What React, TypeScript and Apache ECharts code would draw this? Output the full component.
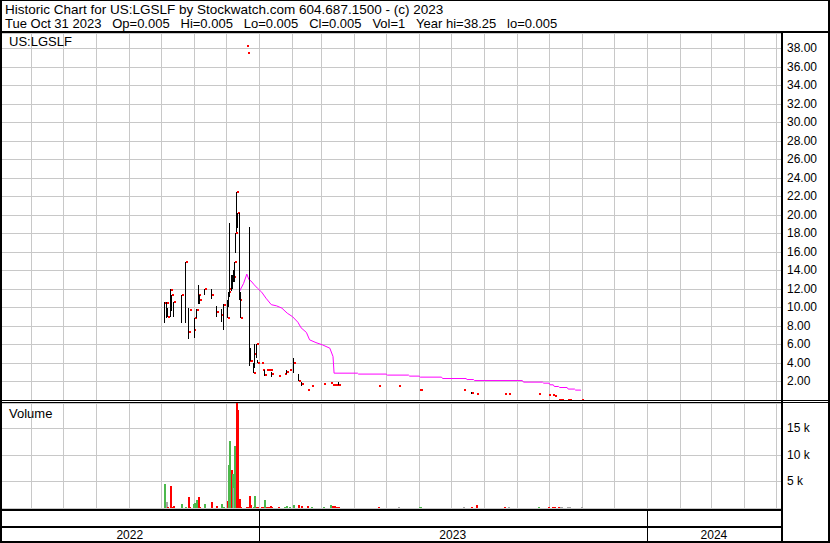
import React, { useEffect, useRef } from 'react';
import * as echarts from 'echarts';

const AXIS_START = '2022-05-04';
const AXIS_END = '2024-05-06';

const TITLE_LINE_1 = 'Historic Chart for US:LGSLF by Stockwatch.com 604.687.1500 - (c) 2023';
const TITLE_LINE_2_PARTS = ['Tue Oct 31 2023', 'Op=0.005', 'Hi=0.005', 'Lo=0.005', 'Cl=0.005', 'Vol=1', 'Year hi=38.25', 'lo=0.005'];
const SYMBOL_LABEL = 'US:LGSLF';
const VOLUME_LABEL = 'Volume';

// Daily trades (sparse, thinly traded)
const tradeDates = [
  '2022-10-04', '2022-10-06', '2022-10-07', '2022-10-10', '2022-10-11', '2022-10-13', '2022-10-20', '2022-10-24',
  '2022-10-27', '2022-10-28', '2022-10-31', '2022-11-01', '2022-11-03', '2022-11-05', '2022-11-06', '2022-11-11',
  '2022-11-17', '2022-11-22', '2022-11-27', '2022-11-29', '2022-12-02', '2022-12-03', '2022-12-04', '2022-12-06',
  '2022-12-07', '2022-12-08', '2022-12-09', '2022-12-10', '2022-12-11', '2022-12-12', '2022-12-14', '2022-12-15',
  '2022-12-20', '2022-12-21', '2022-12-23', '2022-12-24', '2022-12-27', '2022-12-28', '2022-12-30', '2022-12-31',
  '2023-01-03', '2023-01-04', '2023-01-06', '2023-01-08', '2023-01-10', '2023-01-12', '2023-01-13', '2023-01-19',
  '2023-01-25', '2023-01-27', '2023-01-30', '2023-02-02', '2023-02-07', '2023-02-10', '2023-02-16', '2023-02-19',
  '2023-03-03', '2023-03-09', '2023-03-11', '2023-03-13', '2023-03-15', '2023-03-17', '2023-04-23', '2023-05-12',
  '2023-06-01', '2023-06-02', '2023-07-12', '2023-07-20', '2023-07-24', '2023-08-20', '2023-08-23', '2023-09-21',
  '2023-09-30', '2023-10-04', '2023-10-06', '2023-10-09', '2023-10-11', '2023-10-12', '2023-10-18', '2023-10-20',
  '2023-10-31',
];
const highs = [
  10.57, 10.57, 9.92, 11.97, 11.29, 10.57, 11.36, 14.96,
  9.99, 9.74, 7.51, 8.91, 9.85, 12.44, 11.36, 11.97,
  11.97, 10.17, 9.85, 10.35, 10.82, 11.65, 19.17, 13.52,
  13.5, 14.0, 14.96, 18.02, 22.52, 20.18, 20.25, 11.72,
  38.2, 37.5, 18.74, 5.6, 3.98, 6.04, 6.04, 4.34,
  3.98, 3.19, 3.19, 3.19, 3.19, 3.19, 3.0, 2.61,
  2.86, 3.19, 3.19, 4.52, 2.8, 1.9, 1.1, 1.46,
  1.78, 1.89, 1.67, 1.67, 1.67, 1.9, 1.46, 1.46,
  1.1, 1.1, 1.1, 0.9, 0.6, 0.6, 0.6, 0.6,
  0.49, 0.49, 0.38, 0.05, 0.05, 0.05, 0.05, 0.05,
  0.005,
];
const lows = [
  8.3, 8.91, 8.98, 8.98, 9.6, 8.98, 8.3, 8.37,
  6.57, 9.74, 7.51, 6.75, 8.91, 10.39, 10.39, 11.29,
  10.89, 8.98, 8.48, 7.58, 8.84, 10.1, 11.1, 11.8,
  12.0, 12.8, 12.8, 15.86, 18.2, 18.6, 10.82, 8.84,
  38.2, 37.5, 3.69, 4.16, 2.9, 3.44, 4.5, 3.98,
  3.98, 3.19, 2.54, 3.19, 3.19, 3.19, 2.47, 2.61,
  2.86, 2.8, 3.19, 2.9, 2.1, 1.46, 1.1, 1.46,
  1.78, 1.89, 1.67, 1.67, 1.67, 1.67, 1.46, 1.46,
  1.1, 1.1, 1.1, 0.7, 0.6, 0.6, 0.6, 0.6,
  0.49, 0.49, 0.38, 0.05, 0.05, 0.05, 0.05, 0.05,
  0.005,
];
const closes = [
  10.53, 10.53, 8.98, 11.9, 11.29, 10.57, 11.29, 14.96,
  7.33, 9.74, 7.51, 8.84, 9.74, 11.36, 10.82, 11.97,
  11.29, 9.56, 9.2, 10.28, 8.91, 11.65, 11.97, 12.9,
  13.3, 13.3, 14.96, 18.02, 22.45, 20.18, 10.82, 8.91,
  38.2, 37.5, 4.16, 4.16, 2.97, 5.0, 6.04, 3.98,
  3.98, 3.19, 2.72, 3.19, 3.19, 3.19, 2.83, 2.61,
  2.86, 3.0, 3.19, 3.98, 2.1, 1.75, 1.1, 1.46,
  1.78, 1.89, 1.67, 1.67, 1.67, 1.67, 1.46, 1.46,
  1.1, 1.1, 1.1, 0.81, 0.6, 0.6, 0.6, 0.6,
  0.49, 0.49, 0.38, 0.05, 0.05, 0.05, 0.05, 0.05,
  0.005,
];
const volumes = [
  4500, 1100, 100, 4100, 50, 300, 700, 100,
  2100, 100, 700, 900, 1500, 2100, 100, 700,
  1100, 400, 700, 100, 1300, 8100, 12600, 7200,
  6400, 3700, 11700, 7200, 19700, 18400, 1700, 100,
  100, 100, 2300, 600, 100, 2300, 100, 200,
  100, 100, 1500, 100, 100, 300, 100, 100,
  100, 300, 100, 600, 600, 300, 300, 100,
  100, 500, 300, 300, 100, 100, 150, 100,
  100, 50, 100, 100, 600, 100, 50, 100,
  100, 50, 150, 150, 100, 100, 100, 100,
  100,
];
const volumeDirs = [
  'up', 'flat', 'down', 'down', 'down', 'down', 'up', 'up',
  'down', 'down', 'up', 'up', 'up', 'down', 'down', 'up',
  'down', 'down', 'up', 'up', 'down', 'up', 'up', 'down',
  'up', 'flat', 'up', 'up', 'down', 'down', 'down', 'down',
  'down', 'down', 'down', 'down', 'up', 'up', 'down', 'down',
  'down', 'down', 'up', 'down', 'down', 'down', 'down', 'down',
  'up', 'up', 'up', 'up', 'down', 'down', 'down', 'up',
  'up', 'up', 'down', 'down', 'down', 'down', 'down', 'flat',
  'up', 'up', 'flat', 'down', 'down', 'down', 'flat', 'up',
  'down', 'down', 'down', 'down', 'flat', 'flat', 'flat', 'flat',
  'flat',
];

// Moving average (magenta)
const maDates = [
  '2022-12-14', '2022-12-18', '2022-12-21', '2022-12-23', '2022-12-25', '2022-12-28', '2022-12-31', '2023-01-04',
  '2023-01-08', '2023-01-13', '2023-01-18', '2023-01-23', '2023-01-28', '2023-02-02', '2023-02-07', '2023-02-10',
  '2023-02-15', '2023-02-18', '2023-02-24', '2023-03-02', '2023-03-09', '2023-03-12', '2023-03-13', '2023-04-04',
  '2023-04-05', '2023-05-01', '2023-05-02', '2023-05-22', '2023-05-23', '2023-06-01', '2023-06-02', '2023-06-22',
  '2023-06-23', '2023-07-15', '2023-07-16', '2023-07-22', '2023-07-23', '2023-09-06', '2023-09-07', '2023-09-25',
  '2023-09-26', '2023-10-01', '2023-10-02', '2023-10-05', '2023-10-06', '2023-10-10', '2023-10-11', '2023-10-18',
  '2023-10-19', '2023-10-25', '2023-10-26', '2023-10-31',
];
const maValues = [
  11.72, 12.6, 13.6, 13.0, 12.85, 12.44, 12.08, 11.65,
  11.0, 10.3, 10.17, 9.92, 9.38, 9.0, 8.4, 7.8,
  7.3, 6.5, 6.2, 5.96, 5.6, 4.7, 2.9, 2.9,
  2.8, 2.8, 2.69, 2.69, 2.58, 2.58, 2.47, 2.47,
  2.32, 2.32, 2.21, 2.21, 2.1, 2.1, 1.93, 1.93,
  1.82, 1.82, 1.64, 1.64, 1.46, 1.46, 1.35, 1.35,
  1.18, 1.18, 1.07, 1.07,
];

const monthStarts = [
  '2022-06-01', '2022-07-01', '2022-08-01', '2022-09-01', '2022-10-01', '2022-11-01', '2022-12-01',
  '2023-01-01', '2023-02-01', '2023-03-01', '2023-04-01', '2023-05-01', '2023-06-01', '2023-07-01',
  '2023-08-01', '2023-09-01', '2023-10-01', '2023-11-01', '2023-12-01',
  '2024-01-01', '2024-02-01', '2024-03-01', '2024-04-01', '2024-05-01',
];
const yearStarts = ['2022-01-01', '2023-01-01', '2024-01-01'];
const yearEnds = ['2023-01-01', '2024-01-01', '2025-01-01'];
const yearLabels = ['2022', '2023', '2024'];

const priceTicks = [2, 4, 6, 8, 10, 12, 14, 16, 18, 20, 22, 24, 26, 28, 30, 32, 34, 36, 38];
const priceTickLabels = priceTicks.map((v) => v.toFixed(2));
const volumeTicks = [5000, 10000, 15000];
const volumeTickLabels = ['5 k', '10 k', '15 k'];

const FONT = '"Liberation Sans", Arial, Helvetica, sans-serif';
const GRID_COLOR = '#c8c8c8';
const DIR_COLORS: Record<string, string> = { up: '#4cb84c', down: '#ff0000', flat: '#a6a6a6' };

function ts(s: string): number {
  const [y, m, d] = s.split('-').map(Number);
  return new Date(y, m - 1, d).getTime();
}

function tickLabel(ticks: number[], labels: string[]) {
  return (v: number) => {
    const i = ticks.findIndex((t) => Math.abs(t - v) < 1e-6);
    return i >= 0 ? labels[i] : '';
  };
}

function monthLineSeries(gridIdx: number) {
  return {
    type: 'custom',
    xAxisIndex: gridIdx,
    yAxisIndex: gridIdx,
    silent: true,
    z: 1,
    data: monthStarts.map((m) => [ts(m), 0]),
    renderItem: (params: any, api: any) => {
      const p = api.coord([api.value(0), 0]);
      const cs = params.coordSys;
      const x = Math.round(p[0]) + 0.5;
      return {
        type: 'line',
        shape: { x1: x, y1: cs.y, x2: x, y2: cs.y + cs.height },
        style: { stroke: GRID_COLOR, lineWidth: 1 },
      };
    },
  };
}

function frameRect(x: number, y: number, w: number, h: number) {
  return { type: 'rect', silent: true, z: 100, shape: { x, y, width: w, height: h }, style: { fill: '#000' } };
}

function textEl(text: string, x: number, y: number, size: number) {
  return {
    type: 'text',
    silent: true,
    z: 100,
    style: { text, x, y, fill: '#000', font: `${size}px ${FONT}`, align: 'left', verticalAlign: 'middle' },
  };
}

export default function App() {
  const ref = useRef<HTMLDivElement>(null);

  useEffect(() => {
    if (!ref.current) return;
    const chart = echarts.init(ref.current, null, { renderer: 'svg' });
    const xMin = ts(AXIS_START);
    const xMax = ts(AXIS_END);
    const line2 = TITLE_LINE_2_PARTS.join(' \u00a0\u00a0');

    const option: any = {
      animation: false,
      backgroundColor: '#fff',
      grid: [
        { left: 1, right: 49, top: 33, height: 367 },
        { left: 1, right: 49, top: 403, height: 105 },
        { left: 1, right: 49, top: 511, height: 30 },
      ],
      xAxis: [0, 1, 2].map((i) => ({ type: 'time', gridIndex: i, min: xMin, max: xMax, show: false })),
      yAxis: [
        {
          type: 'value', gridIndex: 0, position: 'right', min: 0, max: 39.65, interval: 2,
          axisLine: { show: false }, axisTick: { show: false },
          splitLine: { show: true, lineStyle: { color: GRID_COLOR, width: 1 } },
          axisLabel: { margin: 6, fontSize: 12, fontFamily: FONT, color: '#000', formatter: tickLabel(priceTicks, priceTickLabels) },
        },
        {
          type: 'value', gridIndex: 1, position: 'right', min: 0, max: 19760, interval: 5000,
          axisLine: { show: false }, axisTick: { show: false },
          splitLine: { show: true, lineStyle: { color: GRID_COLOR, width: 1 } },
          axisLabel: { margin: 6, fontSize: 12, fontFamily: FONT, color: '#000', formatter: tickLabel(volumeTicks, volumeTickLabels) },
        },
        { type: 'value', gridIndex: 2, min: 0, max: 1, show: false },
      ],
      series: [
        monthLineSeries(0),
        monthLineSeries(1),
        {
          type: 'line',
          xAxisIndex: 0,
          yAxisIndex: 0,
          z: 3,
          symbol: 'none',
          silent: true,
          data: maDates.map((d, i) => [ts(d), maValues[i]]),
          lineStyle: { color: '#ff00ff', width: 1 },
        },
        {
          type: 'custom',
          xAxisIndex: 0,
          yAxisIndex: 0,
          z: 4,
          silent: true,
          encode: { x: 0, y: [1, 2, 3] },
          data: tradeDates.map((d, i) => [ts(d), highs[i], lows[i], closes[i]]),
          renderItem: (params: any, api: any) => {
            const hi = api.coord([api.value(0), api.value(1)]);
            const lo = api.coord([api.value(0), api.value(2)]);
            const cl = api.coord([api.value(0), api.value(3)]);
            const x = Math.round(hi[0]);
            const children: any[] = [];
            if (lo[1] - hi[1] >= 1) {
              children.push({
                type: 'line',
                shape: { x1: x + 0.5, y1: Math.round(hi[1]), x2: x + 0.5, y2: Math.round(lo[1]) },
                style: { stroke: '#000', lineWidth: 1 },
              });
            }
            children.push({
              type: 'rect',
              shape: { x: x + 1, y: Math.round(cl[1]) - 1, width: 2, height: 2 },
              style: { fill: '#ff0000' },
            });
            return { type: 'group', children };
          },
        },
        {
          type: 'custom',
          xAxisIndex: 1,
          yAxisIndex: 1,
          z: 4,
          silent: true,
          encode: { x: 0, y: 1 },
          data: tradeDates.map((d, i) => [ts(d), volumes[i]]),
          renderItem: (params: any, api: any) => {
            const top = api.coord([api.value(0), api.value(1)]);
            const base = api.coord([api.value(0), 0]);
            const x = Math.round(top[0]);
            const b = Math.round(base[1]);
            const h = Math.max(1, Math.round(base[1] - top[1]));
            return {
              type: 'rect',
              shape: { x, y: b - h, width: 2, height: h },
              style: { fill: DIR_COLORS[volumeDirs[params.dataIndex]] },
            };
          },
        },
        {
          type: 'custom',
          xAxisIndex: 2,
          yAxisIndex: 2,
          z: 4,
          silent: true,
          data: yearStarts.map((y) => [ts(y), 0]),
          renderItem: (params: any, api: any) => {
            const cs = params.coordSys;
            const i = params.dataIndex;
            const x0 = api.coord([ts(yearStarts[i]), 0])[0];
            const x1 = api.coord([ts(yearEnds[i]), 0])[0];
            const left = Math.max(cs.x, x0);
            const right = Math.min(cs.x + cs.width, x1);
            const children: any[] = [];
            if (x0 > cs.x + 2 && x0 < cs.x + cs.width) {
              children.push({
                type: 'rect',
                shape: { x: Math.round(x0), y: cs.y - 1, width: 1, height: cs.height + 1 },
                style: { fill: '#000' },
              });
            }
            children.push({
              type: 'text',
              style: {
                text: yearLabels[i], x: (left + right) / 2, y: cs.y + 23.5,
                align: 'center', verticalAlign: 'middle', font: `12px ${FONT}`, fill: '#000',
              },
            });
            return { type: 'group', children };
          },
        },
      ],
      graphic: [
        frameRect(0, 0, 830, 1),
        frameRect(0, 0, 2, 543),
        frameRect(828, 0, 2, 543),
        frameRect(0, 541, 830, 2),
        frameRect(0, 31, 830, 2),
        frameRect(781, 31, 2, 512),
        frameRect(0, 400, 830, 1),
        frameRect(0, 402, 830, 1),
        frameRect(0, 509, 782, 2),
        frameRect(0, 526, 782, 2),
        textEl(TITLE_LINE_1, 5, 9, 13.5),
        textEl(line2, 5, 23.5, 13),
        textEl(SYMBOL_LABEL, 9, 41.5, 13),
        textEl(VOLUME_LABEL, 9, 413.5, 13),
      ],
    };

    chart.setOption(option);
    return () => chart.dispose();
  }, []);

  return (
    <div
      ref={ref}
      style={{ position: 'absolute', left: 0, top: 0, width: 830, height: 543, background: '#fff' }}
    />
  );
}
